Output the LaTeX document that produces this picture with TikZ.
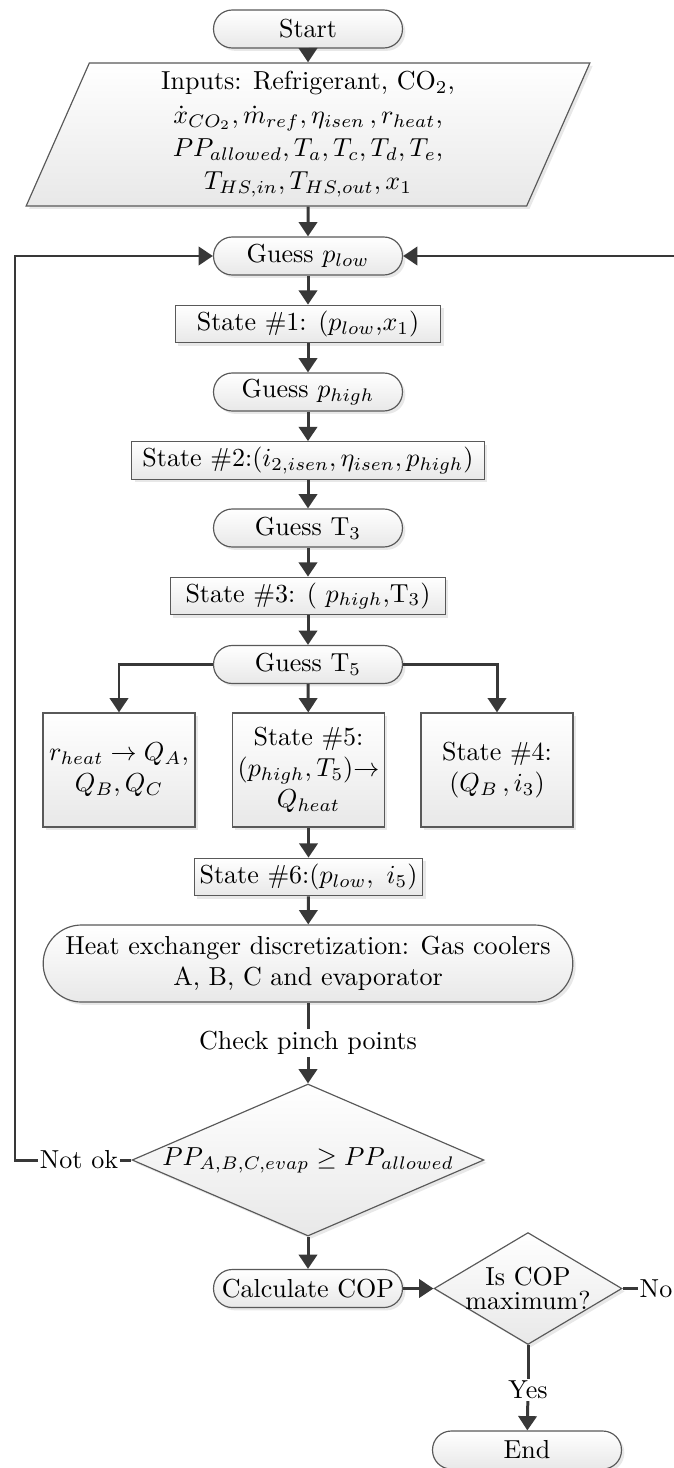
\documentclass[tikz,border=0pt]{standalone}
\usetikzlibrary{shapes.geometric,arrows.meta,shadows,positioning}

\begin{document}
\begin{tikzpicture}[x=0.0135cm,y=-0.0135cm,
        box/.style={draw=black!65,line width=0.45pt,top color=white,bottom color=black!9,
                    drop shadow={opacity=0.18,shadow xshift=1.1pt,shadow yshift=-1.1pt}},
        term/.style={box,rounded corners=7.2pt,minimum width=72.6pt,minimum height=14.6pt,
                     inner sep=1pt,align=center},
        proc/.style={box,minimum height=14.4pt,inner sep=2pt,align=center},
        io/.style={box,trapezium,trapezium left angle=63.3,trapezium right angle=116.7,
                   trapezium stretches body=true,minimum width=216.6pt,minimum height=55pt,
                   align=center,inner sep=0pt},
        decision/.style={box,diamond,align=center},
        lbl/.style={inner sep=0.6pt},
        wire/.style={draw=black!78,line width=1.15pt},
        fwd/.style={wire,-{Triangle[length=5.5pt,width=7pt]}},
        rev/.style={wire,{Triangle[length=5.5pt,width=7pt]}-}]
    \useasboundingbox (0,0) rectangle (674,1468);

    \node[term] at (308,29) (start) {Start};
    \node[io] at (308,134.5) (inputs) {Inputs: Refrigerant, CO$_2$,\\[0.8pt]
        $\dot{x}_{CO_2},\dot{m}_{ref},\eta_{isen}\,,r_{heat}$,\\[0.8pt]
        $PP_{allowed},T_a,T_c,T_d,T_e$,\\[0.8pt]
        $T_{HS,in},T_{HS,out},x_1$} edge[rev] (start);
    \node[term] at (308,256) (plow) {Guess $p_{low}$} edge[rev] (inputs);
    \node[proc,minimum width=102pt] at (308,324) (s1) {State \#1: ($p_{low}$,$x_1$)} edge[rev] (plow);
    \node[term] at (308,392) (phigh) {Guess $p_{high}$} edge[rev] (s1);
    \node[proc,minimum width=135.5pt] at (308,460.5) (s2)
        {State \#2:$(i_{2,isen},\eta_{isen},p_{high})$} edge[rev] (phigh);
    \node[term] at (308,528) (t3) {Guess T$_3$} edge[rev] (s2);
    \node[proc,minimum width=105.6pt] at (308,596) (s3) {State \#3: ( $p_{high}$,T$_3$)} edge[rev] (t3);
    \node[term] at (308,664.5) (t5) {Guess T$_5$} edge[rev] (s3);

    % three branches below T5
    \node[proc,minimum width=58.4pt,minimum height=43.8pt] at (119,770) (heat)
        {$r_{heat}\rightarrow Q_A$,\\$Q_B,Q_C$};
    \node[proc,minimum width=58.4pt,minimum height=43.8pt] at (308.5,770) (s5)
        {State \#5:\\$(p_{high},T_5)$$\rightarrow$\\$Q_{heat}$} edge[rev] (t5);
    \node[proc,minimum width=58.4pt,minimum height=43.8pt] at (497,770) (s4)
        {State \#4:\\$(Q_B\,,i_3)$};
    \draw[fwd] (t5) -| (heat);
    \draw[fwd] (t5) -| (s4);

    \node[proc,minimum width=87.6pt] at (308.5,877) (s6) {State \#6:$(p_{low},\ i_5)$} edge[rev] (s5);
    \node[term,minimum width=203.5pt,minimum height=29.6pt,rounded corners=14.8pt] at (308,963.5) (hx)
        {Heat exchanger discretization: Gas coolers\\A, B, C and evaporator} edge[rev] (s6);
    \node[lbl] at (308,1043) (pinch) {Check pinch points} edge[wire] (hx);
    \node[decision,aspect=2.3,inner sep=0pt,minimum width=135.2pt,minimum height=58.4pt] at (308,1160) (pp)
        {$PP_{A,B,C,evap}\geq PP_{allowed}$} edge[rev] (pinch);

    % loop back to the low pressure guess
    \node[lbl] at (79,1160) (notok) {Not ok} edge[wire] (pp);
    \coordinate (loop) at (15,1160);
    \coordinate (back) at (674,256);
    \draw[fwd] (notok) -- (loop) |- (plow);
    \draw[fwd] (back) -- (plow);

    \node[term] at (308,1288.5) (cop) {Calculate COP} edge[rev] (pp);
    \node[decision,aspect=1.68,inner sep=-5pt,minimum width=72.2pt,minimum height=43pt] at (528,1288.5) (max)
        {Is COP\\[-3pt]maximum?} edge[rev] (cop);
    \node[lbl] at (656,1288.5) (no) {No} edge[wire] (max);
    \node[lbl] at (528,1390) (yes) {Yes} edge[wire] (max);
    \node[term] at (527,1450) (stop) {End} edge[rev] (yes);
\end{tikzpicture}
\end{document}
